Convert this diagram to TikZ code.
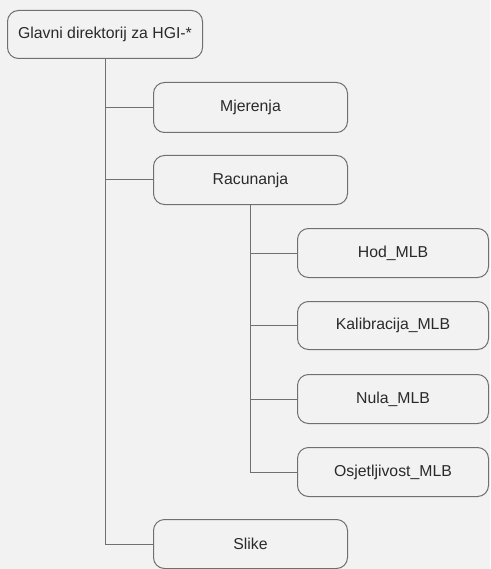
\documentclass[tikz,border=0pt]{standalone}
\usepackage{fontspec}
\setmainfont{Liberation Sans}
\definecolor{bg}{HTML}{F2F2F2}
\definecolor{ln}{HTML}{707070}
\definecolor{tx}{HTML}{2A2A2A}
\begin{document}
\begin{tikzpicture}[x=1pt,y=-1pt,
  box/.style={draw=ln, line width=1pt, rounded corners=11pt, fill=bg, text=tx,
    font=\fontsize{15.8}{18}\selectfont, inner sep=0pt, anchor=north west},
  conn/.style={draw=ln, line width=1pt}]
\fill[bg] (0,0) rectangle (490,569);
\useasboundingbox (0,0) rectangle (490,569);
\node[box, minimum width=195pt, minimum height=48pt] (root) at (7,10) {Glavni direktorij za HGI-*};
\node[box, minimum width=194pt, minimum height=50pt] (mj) at (153,82) {Mjerenja};
\node[box, minimum width=194pt, minimum height=49pt] (rac) at (153,155) {Racunanja};
\node[box, minimum width=191pt, minimum height=49pt] (hod) at (297,228) {Hod\_MLB};
\node[box, minimum width=191pt, minimum height=48pt] (kal) at (297,301) {Kalibracija\_MLB};
\node[box, minimum width=191pt, minimum height=49pt] (nula) at (297,374) {Nula\_MLB};
\node[box, minimum width=191pt, minimum height=49pt] (osj) at (297,447) {Osjetljivost\_MLB};
\node[box, minimum width=194pt, minimum height=49pt] (slike) at (153,519) {Slike};
\draw[conn] (root.south) |- (slike.west);
\draw[conn] (root.south |- mj.west) -- (mj.west);
\draw[conn] (root.south |- rac.west) -- (rac.west);
\draw[conn] (rac.south) |- (osj.west);
\draw[conn] (rac.south |- hod.west) -- (hod.west);
\draw[conn] (rac.south |- kal.west) -- (kal.west);
\draw[conn] (rac.south |- nula.west) -- (nula.west);
\end{tikzpicture}
\end{document}
